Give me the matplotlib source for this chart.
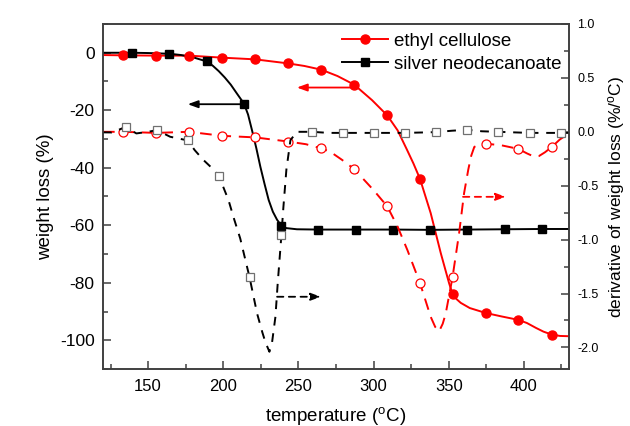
import matplotlib
matplotlib.use("Agg")
import matplotlib.pyplot as plt
from matplotlib.lines import Line2D
from matplotlib.ticker import MultipleLocator

plt.rcParams['font.family'] = ['Liberation Sans', 'DejaVu Sans']
plt.rcParams['mathtext.fontset'] = 'custom'
plt.rcParams['mathtext.rm'] = 'Liberation Sans'
plt.rcParams['mathtext.it'] = 'Liberation Sans:italic'
plt.rcParams['axes.unicode_minus'] = False

# ---- ethyl cellulose: weight loss (left axis) ----
ec_t = [120, 133.3, 155.3, 177.1, 199.1, 221.3, 243.1, 254, 265.3, 276, 287.1, 299, 309.1,
        316, 322, 326.5, 330.9, 338, 344.7, 350.2, 352.5, 355, 358, 364, 374.5, 385,
        396.2, 402, 408, 413, 418.4, 424, 430]
ec_w = [-0.8, -0.9, -1.0, -1.0, -1.7, -2.3, -3.7, -4.6, -5.9, -8.1, -11.1, -16.5, -21.8,
        -27.0, -33.5, -38.5, -43.9, -55.8, -69.7, -80.1, -83.9, -85.6, -87.0, -88.8, -90.5, -91.7,
        -92.9, -94.0, -95.7, -97.0, -98.0, -98.5, -98.6]
ec_mt = [133.3, 155.3, 177.1, 199.1, 221.3, 243.1, 265.3, 287.1, 309.1, 330.9, 352.5, 374.5, 396.2, 418.4]
ec_mw = [-0.9, -1.0, -1.0, -1.7, -2.3, -3.7, -5.9, -11.1, -21.8, -43.9, -83.9, -90.5, -92.9, -98.0]

# ---- silver neodecanoate: weight loss (left axis) ----
sn_t = [120, 139.1, 150, 164.2, 172, 180, 188.9, 193, 197, 201, 205, 209.1, 213.8, 216.5, 219.1,
        222, 224.7, 227.5, 230.2, 233, 235.8, 238.7, 242, 249, 263.3, 288.2, 313.1, 337.8,
        362.4, 387.1, 411.8, 430]
sn_w = [0.0, 0.0, -0.1, -0.35, -0.8, -1.6, -3.0, -4.5, -6.4, -8.6, -11.1, -14.2, -17.7, -21.5, -26.9,
        -33.2, -39.7, -45.7, -51.2, -55.3, -58.1, -60.2, -61.0, -61.4, -61.5, -61.5, -61.5, -61.6,
        -61.5, -61.4, -61.3, -61.3]
sn_mt = [139.1, 164.2, 188.9, 213.8, 238.7, 263.3, 288.2, 313.1, 337.8, 362.4, 387.1, 411.8]
sn_mw = [0.0, -0.35, -3.0, -17.7, -60.2, -61.5, -61.5, -61.5, -61.6, -61.5, -61.4, -61.3]

# ---- ethyl cellulose: derivative (right axis) ----
ecd_t = [120, 133.3, 155.3, 177.1, 199.1, 221.3, 243.1, 255, 265.3, 271.3, 279, 287.1, 300,
         309.1, 316, 322.5, 330.9, 338, 341, 343.6, 346, 348, 352.5, 356.9, 360.2, 363, 365,
         367, 371.3, 374.5, 385, 396.2, 402, 406.7, 410, 414, 418.4, 424, 430]
ecd_d = [0.0, 0.0, -0.01, 0.0, -0.037, -0.052, -0.09, -0.115, -0.154, -0.186, -0.26, -0.346, -0.541,
         -0.692, -0.88, -1.097, -1.404, -1.716, -1.81, -1.85, -1.78, -1.685, -1.35, -0.94, -0.57, -0.35, -0.22,
         -0.14, -0.11, -0.11, -0.125, -0.158, -0.2, -0.23, -0.225, -0.19, -0.142, -0.07, -0.015]
ecd_mt = ec_mt
ecd_md = [0.0, -0.01, 0.0, -0.037, -0.052, -0.09, -0.154, -0.346, -0.692, -1.404, -1.35, -0.11, -0.158, -0.142]

# ---- silver neodecanoate: derivative (right axis) ----
snd_t = [120, 125.8, 135.1, 142.2, 150, 155.8, 164.7, 176.4, 181, 186.7, 192, 197.1, 203.5, 207,
         211.3, 217.5, 222.5, 226, 228, 230.7, 232.4, 234.7, 236.2, 238.7, 240, 242, 244.7, 249,
         259.1, 270, 279.8, 300.4, 321.1, 341.6, 352, 362.2, 372, 383.1, 393, 403.8, 424.4, 430]
snd_d = [-0.005, -0.006, 0.044, -0.015, 0.0, 0.016, -0.046, -0.08, -0.17, -0.26, -0.33, -0.41, -0.634, -0.8,
         -0.99, -1.35, -1.685, -1.86, -1.95, -2.04, -1.96, -1.716, -1.41, -0.955, -0.7, -0.35, -0.077, 0.0,
         0.0, -0.01, -0.01, -0.01, -0.01, -0.003, 0.01, 0.019, 0.005, 0.0, -0.005, -0.01, -0.01, -0.01]
snd_mt = [135.1, 155.8, 176.4, 197.1, 217.5, 238.7, 259.1, 279.8, 300.4, 321.1, 341.6, 362.2, 383.1, 403.8, 424.4]
snd_md = [0.044, 0.016, -0.08, -0.41, -1.35, -0.955, 0.0, -0.01, -0.01, -0.01, -0.003, 0.019, 0.0, -0.01, -0.01]

RED = '#ff0000'
SPINE = '#404040'
GRAY = '#707070'

fig = plt.figure(figsize=(6.3, 4.26), dpi=100)
ax = fig.add_axes([103 / 630, 1 - 369 / 426, 466 / 630, 345 / 426])
ax2 = ax.twinx()

# weight loss curves
ax.plot(ec_t, ec_w, color=RED, lw=1.4, zorder=3)
ax.plot(ec_mt, ec_mw, ls='none', marker='o', ms=6.5, color=RED, mec=RED, zorder=4)
ax.plot(sn_t, sn_w, color='black', lw=1.4, zorder=3)
ax.plot(sn_mt, sn_mw, ls='none', marker='s', ms=5.5, color='black', zorder=4)

# derivative curves
ax2.plot(ecd_t, ecd_d, color=RED, lw=1.4, dashes=(6, 4))
ax2.plot(ecd_mt, ecd_md, ls='none', marker='o', ms=6.5, mfc='white', mec=RED, mew=0.9)
ax2.plot(snd_t, snd_d, color='black', lw=1.4, dashes=(4.5, 4))
ax2.plot(snd_mt, snd_md, ls='none', marker='s', ms=5.5, mfc='white', mec=GRAY, mew=0.9)

# arrows
ap_solid = dict(arrowstyle='-|>,head_length=0.6,head_width=0.22', lw=1.3, shrinkA=0, shrinkB=0)
ax.annotate('', xy=(249, -12.1), xytext=(288.7, -12.1),
            arrowprops=dict(color=RED, **ap_solid))
ax.annotate('', xy=(176.4, -17.9), xytext=(213.8, -17.9),
            arrowprops=dict(color='black', **ap_solid))
ax2.annotate('', xy=(265, -1.53), xytext=(235.8, -1.53),
             arrowprops=dict(color='black', linestyle=(0, (3.5, 3)), **ap_solid))
ax2.annotate('', xy=(388, -0.603), xytext=(359.5, -0.603),
             arrowprops=dict(color=RED, linestyle=(0, (3.5, 3)), **ap_solid))

# axes limits & ticks
ax.set_xlim(120, 430)
ax.set_ylim(-110, 10)
ax2.set_ylim(-2.2, 1.0)
ax.xaxis.set_major_locator(MultipleLocator(50))
ax.xaxis.set_minor_locator(MultipleLocator(25))
ax.yaxis.set_major_locator(MultipleLocator(20))
ax.yaxis.set_minor_locator(MultipleLocator(10))
ax2.yaxis.set_major_locator(MultipleLocator(0.5))
ax2.yaxis.set_minor_locator(MultipleLocator(0.25))

for a in (ax, ax2):
    for s in a.spines.values():
        s.set_color(SPINE)
        s.set_linewidth(1.2)
ax.tick_params(axis='both', which='both', direction='in', color=SPINE, width=1.1, top=False, right=False)
ax.tick_params(which='major', length=6)
ax.tick_params(which='minor', length=3.5)
ax.tick_params(axis='x', labelsize=12, pad=7)
ax.tick_params(axis='y', labelsize=12.5, pad=6)
ax2.tick_params(axis='y', which='both', direction='in', color=SPINE, width=1.1, labelsize=9, pad=6)
ax2.tick_params(which='major', length=6)
ax2.tick_params(which='minor', length=3.5)

ax.set_xlabel(r'temperature ($^{\rm o}$C)', fontsize=13.5, labelpad=8)
ax.set_ylabel('weight loss (%)', fontsize=13.5, labelpad=4)
ax2.set_ylabel(r'derivative of weight loss (%/$^{\rm o}$C)', fontsize=12.5, labelpad=5)

handles = [Line2D([], [], color=RED, lw=1.4, marker='o', ms=6.5),
           Line2D([], [], color='black', lw=1.4, marker='s', ms=5.5)]
ax.legend(handles, ['ethyl cellulose', 'silver neodecanoate'], loc='upper left',
          bbox_to_anchor=(0.512, 0.975), frameon=False, fontsize=13.5, borderpad=0,
          borderaxespad=0, handlelength=2.45, handletextpad=0.32, labelspacing=0.32)

fig.savefig('out.png', dpi=100)
